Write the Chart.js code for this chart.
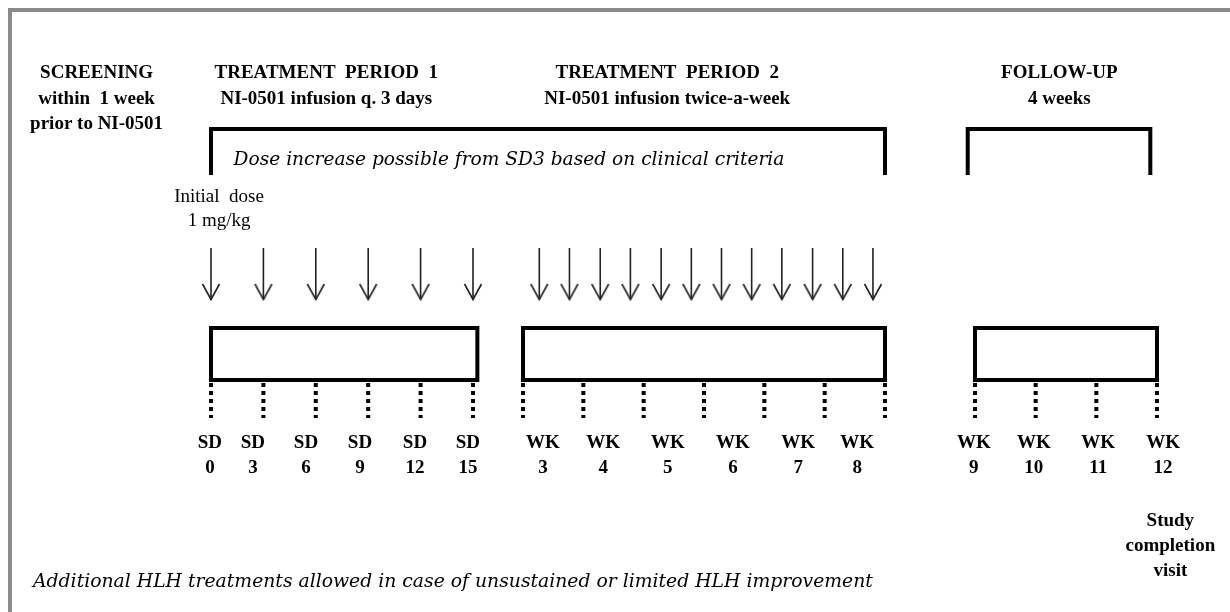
<!DOCTYPE html>
<html>
<head>
<meta charset="utf-8">
<script src="https://cdn.jsdelivr.net/npm/chart.js@4/dist/chart.umd.min.js"></script>
<style>
  html, body { margin: 0; padding: 0; background: #fff; }
  #wrap { width: 1230px; height: 612px; }
</style>
</head>
<body>
<div id="wrap"><canvas id="design"></canvas></div>
<script>
// header text of the four study periods
const periodTitles = ["SCREENING", "TREATMENT  PERIOD  1", "TREATMENT  PERIOD  2", "FOLLOW-UP"];
const periodNotes = [
  ["within  1 week", "prior to NI-0501"],
  ["NI-0501 infusion q. 3 days"],
  ["NI-0501 infusion twice-a-week"],
  ["4 weeks"]
];

// treatment period 1, in study days
const p1Span = [0, 15.25];
const p1VisitDays = [0, 3, 6, 9, 12, 15];
const p1InfusionDays = [0, 3, 6, 9, 12, 15];
const p1Labels = ["SD 0", "SD 3", "SD 6", "SD 9", "SD 12", "SD 15"];
const p1LabelDays = [-0.06, 2.4, 5.44, 8.53, 11.68, 14.71];

// treatment period 2, in elapsed weeks
const p2Span = [2, 8];
const p2VisitWeeks = [2, 3, 4, 5, 6, 7, 8];
const p2InfusionWeeks = [2.27, 2.77, 3.28, 3.78, 4.29, 4.79, 5.29, 5.79, 6.29, 6.8, 7.3, 7.8];
const p2Labels = ["WK 3", "WK 4", "WK 5", "WK 6", "WK 7", "WK 8"];
const p2LabelWeeks = [2.33, 3.33, 4.4, 5.48, 6.56, 7.54];

// follow-up, in study weeks
const fuSpan = [9, 12];
const fuVisitWeeks = [9, 10, 11, 12];
const fuLabels = ["WK 9", "WK 10", "WK 11", "WK 12"];
const fuLabelWeeks = [8.98, 9.97, 11.03, 12.1];

// layout rows (y scale runs top to bottom)
const ROW = {
  title: 73, note: 99, lineH: 25,
  bracketTop: 129, bracketBottom: 175, doseNote: 160,
  initial: 197, arrowTop: 248, arrowTip: 300,
  boxTop: 328, boxBottom: 380, dotTop: 383, dotBottom: 418,
  label: 443, labelH: 25, completion: 521, footer: 582
};

const serifB = (s) => "bold " + s + "px 'Liberation Serif', 'Times New Roman', serif";
const serif = (s) => s + "px 'Liberation Serif', 'Times New Roman', serif";
const italic = (s) => "italic " + s + "px 'DejaVu Serif', serif";

function boxPath(span) {
  return [
    { x: span[0], y: ROW.boxTop }, { x: span[1], y: ROW.boxTop },
    { x: span[1], y: ROW.boxBottom }, { x: span[0], y: ROW.boxBottom },
    { x: span[0], y: ROW.boxTop }
  ];
}

function vSegments(xs, top, bottom) {
  const out = [];
  xs.forEach((x) => {
    out.push({ x: x, y: top }, { x: x, y: bottom }, { x: x, y: null });
  });
  return out;
}

function arrowHead() {
  const c = document.createElement("canvas");
  c.width = 22;
  c.height = 36;
  const g = c.getContext("2d");
  g.strokeStyle = "#222";
  g.lineWidth = 1.6;
  g.beginPath();
  g.moveTo(2.5, 2);
  g.lineTo(11, 17.5);
  g.lineTo(19.5, 2);
  g.stroke();
  return c;
}
const head = arrowHead();

function lineSet(data, axis, extra) {
  return Object.assign({
    type: "line", data: data, xAxisID: axis, yAxisID: "y",
    borderColor: "#000", borderWidth: 4, pointRadius: 0,
    spanGaps: false, fill: false, tension: 0, clip: false,
    borderJoinStyle: "miter", borderCapStyle: "square"
  }, extra || {});
}

const dotted = { borderDash: [4, 4], borderCapStyle: "butt" };
const shaft = { borderWidth: 1.6, borderColor: "#222", borderCapStyle: "butt" };

const datasets = [
  lineSet(boxPath(p1Span), "xDay"),
  lineSet(boxPath(p2Span), "xWk"),
  lineSet(boxPath(fuSpan), "xFu"),
  lineSet(vSegments(p1VisitDays, ROW.dotTop, ROW.dotBottom), "xDay", dotted),
  lineSet(vSegments(p2VisitWeeks, ROW.dotTop, ROW.dotBottom), "xWk", dotted),
  lineSet(vSegments(fuVisitWeeks, ROW.dotTop, ROW.dotBottom), "xFu", dotted),
  lineSet(vSegments(p1InfusionDays, ROW.arrowTop, ROW.arrowTip - 1), "xDay", shaft),
  lineSet(vSegments(p2InfusionWeeks, ROW.arrowTop, ROW.arrowTip - 1), "xWk", shaft),
  { type: "scatter", data: p1InfusionDays.map((d) => ({ x: d, y: ROW.arrowTip })), xAxisID: "xDay", yAxisID: "y", pointStyle: head, pointRadius: 6, clip: false },
  { type: "scatter", data: p2InfusionWeeks.map((w) => ({ x: w, y: ROW.arrowTip })), xAxisID: "xWk", yAxisID: "y", pointStyle: head, pointRadius: 6, clip: false }
];

// brackets, headers and labels, placed through the scales
const diagramText = {
  id: "diagramText",
  beforeDraw(chart) {
    const ctx = chart.ctx;
    ctx.save();
    ctx.fillStyle = "#fff";
    ctx.fillRect(0, 0, chart.width, chart.height);
    ctx.strokeStyle = "#8a8a8a";
    ctx.lineWidth = 4;
    ctx.strokeRect(10, 10, chart.width + 20, chart.height + 20);
    ctx.restore();
  },
  afterDatasetsDraw(chart) {
    const { ctx, scales } = chart;
    const y = (v) => scales.y.getPixelForValue(v);
    const xd = (v) => scales.xDay.getPixelForValue(v);
    const xw = (v) => scales.xWk.getPixelForValue(v);
    const xf = (v) => scales.xFu.getPixelForValue(v);

    ctx.save();
    ctx.strokeStyle = "#000";
    ctx.lineWidth = 4;
    ctx.lineJoin = "miter";
    const bracket = (l, r) => {
      ctx.beginPath();
      ctx.moveTo(l, y(ROW.bracketBottom));
      ctx.lineTo(l, y(ROW.bracketTop));
      ctx.lineTo(r, y(ROW.bracketTop));
      ctx.lineTo(r, y(ROW.bracketBottom));
      ctx.stroke();
    };
    bracket(xd(p1Span[0]), xw(p2Span[1]));
    bracket(xf(8.88), xf(11.89));

    ctx.fillStyle = "#000";
    ctx.textBaseline = "middle";
    const text = (lines, x, top, font, lh, align) => {
      ctx.font = font;
      ctx.textAlign = align || "center";
      lines.forEach((s, i) => ctx.fillText(s, x, y(top + i * lh)));
    };

    const titleX = [xd(-6.55), xd(6.6), xw(4.39), xf(10.39)];
    periodTitles.forEach((t, i) => {
      text([t], titleX[i], ROW.title, serifB(19), ROW.lineH);
      text(periodNotes[i], titleX[i], ROW.note, serifB(19), ROW.lineH);
    });

    text(["Dose increase possible from SD3 based on clinical criteria"], xd(17.06), ROW.doseNote, italic(18.6), 0);
    text(["Initial  dose", "1 mg/kg"], xd(0.46), ROW.initial, serif(19), 24);

    p1Labels.forEach((s, i) => text(s.split(" "), xd(p1LabelDays[i]), ROW.label, serifB(19), ROW.labelH));
    p2Labels.forEach((s, i) => text(s.split(" "), xw(p2LabelWeeks[i]), ROW.label, serifB(19), ROW.labelH));
    fuLabels.forEach((s, i) => text(s.split(" "), xf(fuLabelWeeks[i]), ROW.label, serifB(19), ROW.labelH));

    text(["Study", "completion", "visit"], xf(12.22), ROW.completion, serifB(19), 25);
    text(["Additional HLH treatments allowed in case of unsustained or limited HLH improvement"], xd(-10.19), ROW.footer, italic(18.8), 0, "left");
    ctx.restore();
  }
};

const hidden = { display: false };
new Chart(document.getElementById("design"), {
  type: "scatter",
  data: { datasets: datasets },
  options: {
    responsive: true,
    maintainAspectRatio: false,
    animation: false,
    events: [],
    layout: { padding: 0, autoPadding: false },
    plugins: { legend: hidden, tooltip: { enabled: false } },
    scales: {
      xDay: { type: "linear", position: "bottom", min: -12.08, max: 58.34, display: false },
      xWk: { type: "linear", position: "bottom", min: -6.6685, max: 13.718, display: false },
      xFu: { type: "linear", position: "bottom", min: -7.0714, max: 13.2033, display: false },
      y: { type: "linear", min: 0, max: 612, reverse: true, display: false }
    }
  },
  plugins: [diagramText]
});
</script>
</body>
</html>
